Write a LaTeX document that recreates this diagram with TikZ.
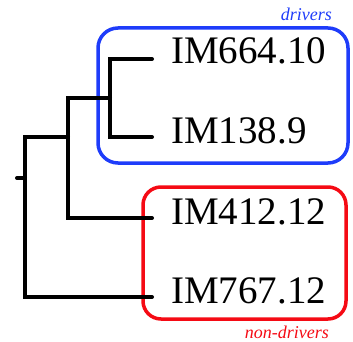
\documentclass[tikz,border=0pt]{standalone}
\usepackage{fontspec}
\setmainfont{Liberation Serif}
\definecolor{grpblue}{RGB}{30,60,250}
\definecolor{grpred}{RGB}{245,10,20}
\begin{document}
\begin{tikzpicture}[x=1pt,y=-1pt,
  branch/.style={line width=4pt,line cap=round,line join=miter,black},
  leaf/.style={anchor=base west,inner sep=0pt,font=\fontsize{39}{39}\selectfont},
  groupbox/.style={line width=3.5pt,rounded corners=#1},
  grouplabel/.style={anchor=base east,inner sep=0pt,font=\fontsize{18}{18}\selectfont\itshape}]
\useasboundingbox (0,0) rectangle (353,342);
% group frames
\draw[groupbox=20pt,grpblue] (98,28) rectangle (348,163);
\draw[groupbox=18pt,grpred] (143,187) rectangle (346,319);
\node[grouplabel,text=grpblue] (gdrv) at (332,21) {drivers};
\node[grouplabel,text=grpred] (gnon) at (329,338) {non-drivers};
% tips and internal nodes of the tree
\coordinate (L1) at (152,59);
\coordinate (L2) at (152,137);
\coordinate (L3) at (152,218);
\coordinate (L4) at (152,297);
\coordinate (A) at (110,98);
\coordinate (B) at (68,137);
\coordinate (R) at (25,178);
\coordinate (S) at (17,178);
\draw[branch] (L1) -| (A) |- (L2);
\draw[branch] (A) -| (B) |- (L3);
\draw[branch] (B) -| (R) |- (L4);
\draw[branch] (S) -- (R);
% tip labels
\node[leaf] (t1) at (171,64) {IM664.10};
\node[leaf] (t2) at (171,143) {IM138.9};
\node[leaf] (t3) at (171,224) {IM412.12};
\node[leaf] (t4) at (171,303) {IM767.12};
\end{tikzpicture}
\end{document}
